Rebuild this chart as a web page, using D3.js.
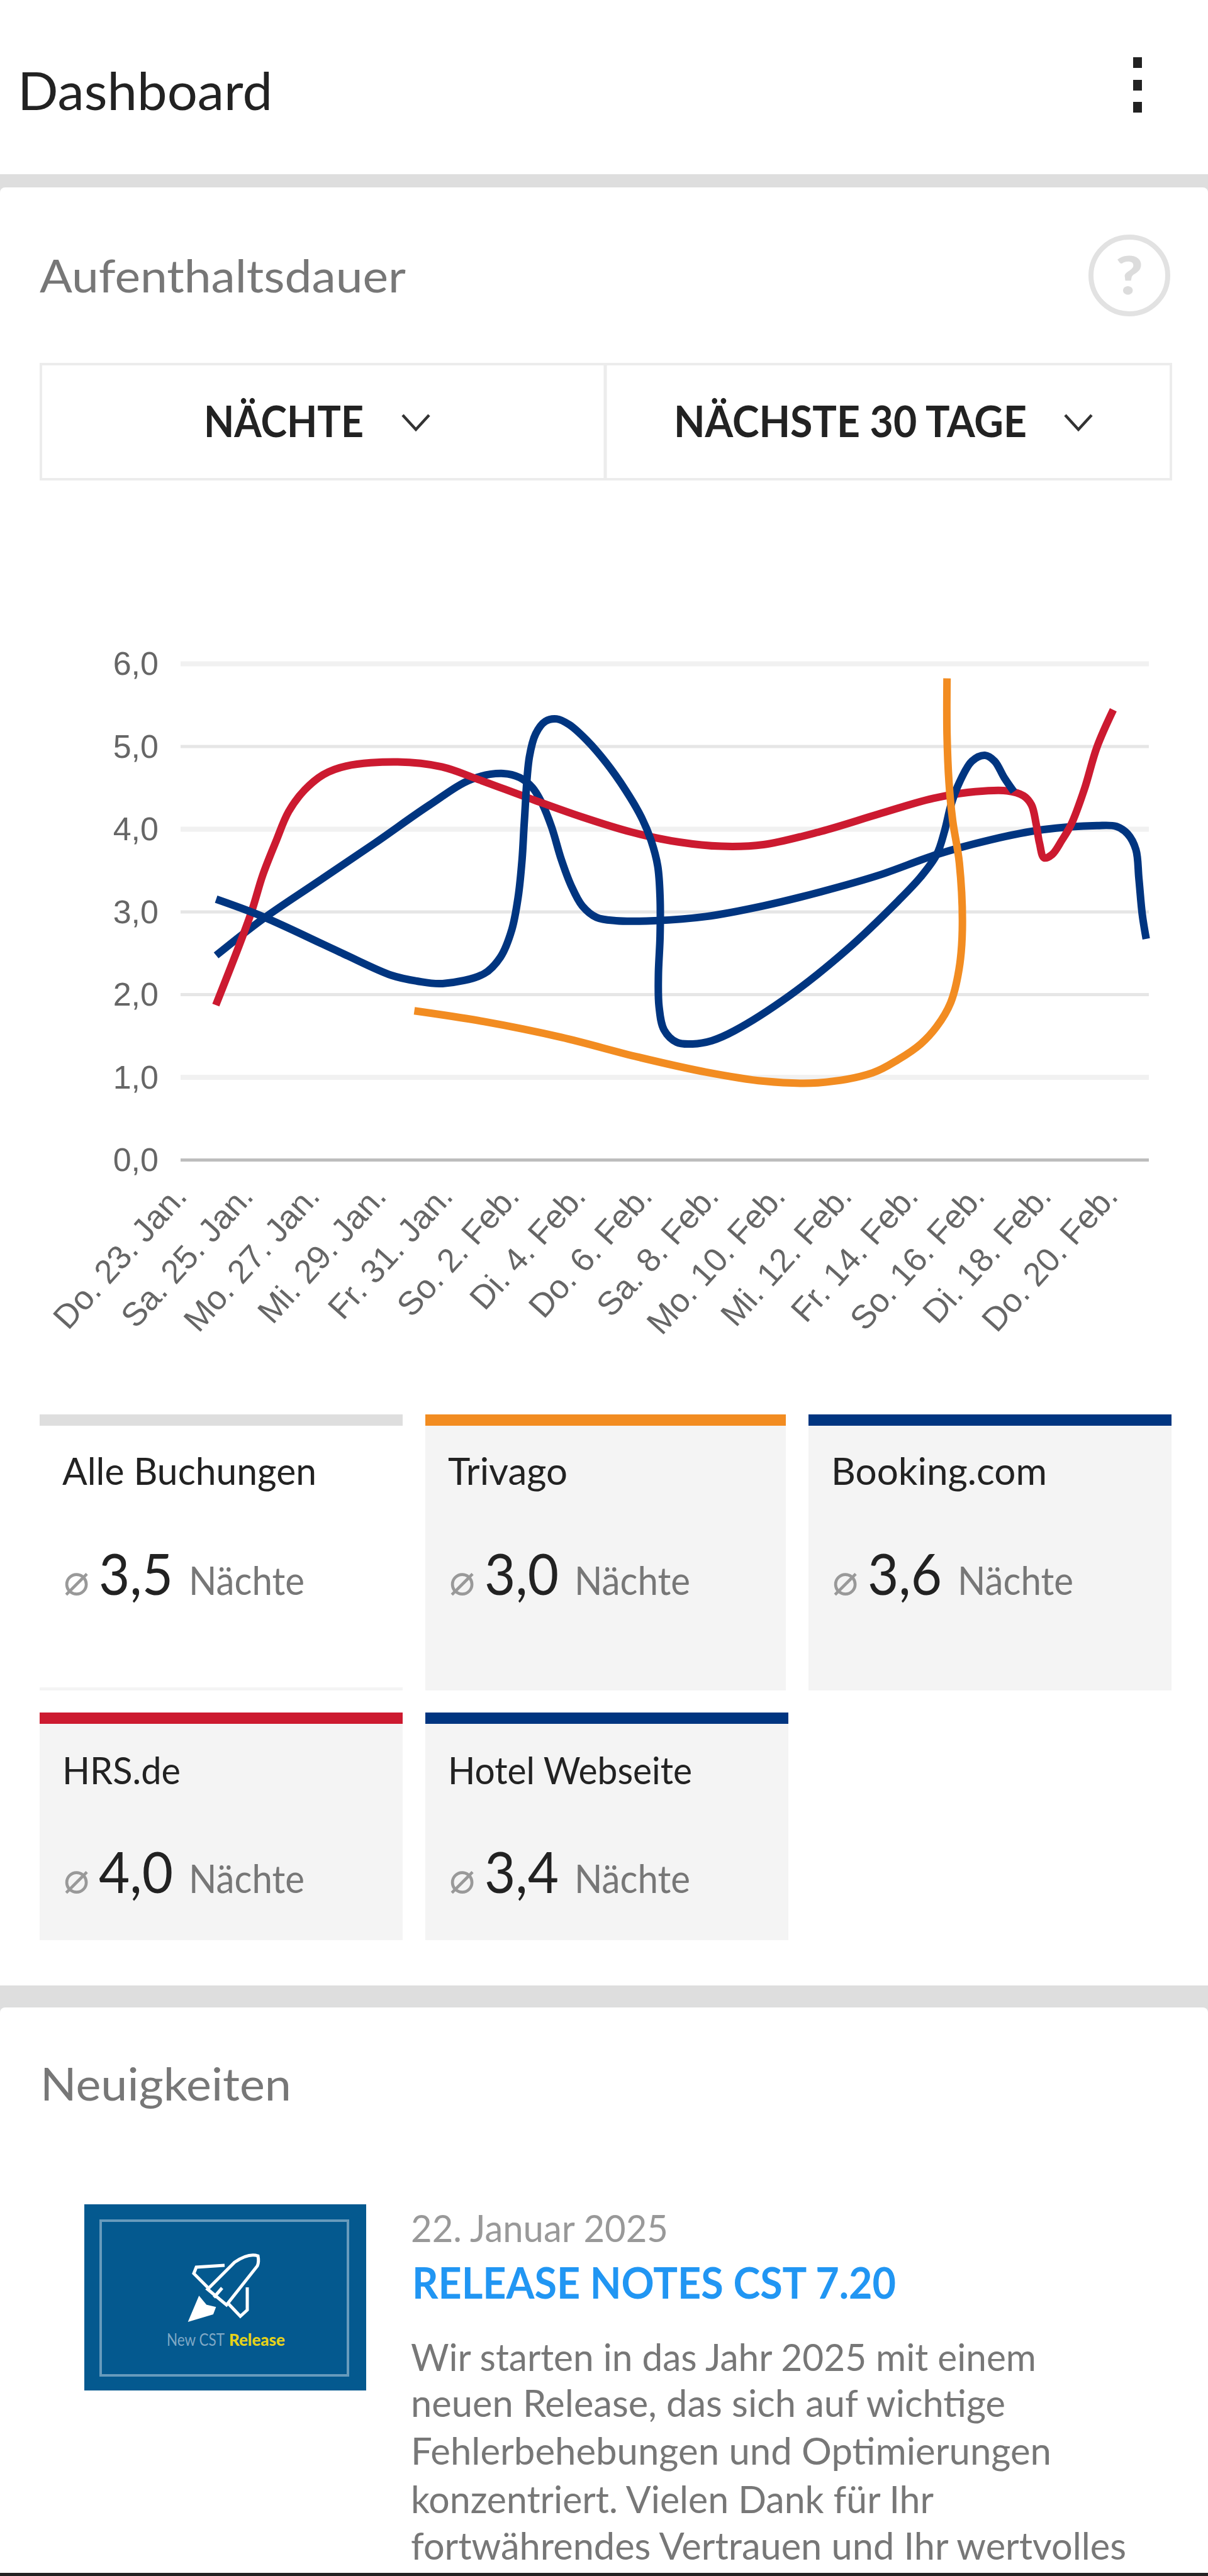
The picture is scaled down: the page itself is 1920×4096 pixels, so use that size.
<!DOCTYPE html>
<html lang="de">
<head>
<meta charset="utf-8">
<title>Dashboard</title>
<script src="https://d3js.org/d3.v7.min.js"></script>
<style>
  html, body { margin: 0; padding: 0; background: #fff; }
  svg { display: block; }
  text { font-family: Lato, "Noto Sans", sans-serif; }
  .axis text { font-family: "Liberation Sans", Arial, sans-serif; font-size: 52px; fill: #666; }
  .xaxis text { font-size: 53px; }
</style>
</head>
<body>
<svg id="page" width="1920" height="4096"></svg>
<script>
"use strict"

// x axis: day offset from Do. 23. Jan., labelled every second day
const tickDays = [0, 2, 4, 6, 8, 10, 12, 14, 16, 18, 20, 22, 24, 26, 28]
const tickLabels = ["Do. 23. Jan.", "Sa. 25. Jan.", "Mo. 27. Jan.", "Mi. 29. Jan.", "Fr. 31. Jan.",
  "So. 2. Feb.", "Di. 4. Feb.", "Do. 6. Feb.", "Sa. 8. Feb.", "Mo. 10. Feb.", "Mi. 12. Feb.",
  "Fr. 14. Feb.", "So. 16. Feb.", "Di. 18. Feb.", "Do. 20. Feb."]
const yTicks = [0, 1, 2, 3, 4, 5, 6]

// values, day offset + nights
const hotelDays = [0.01, 1.41, 3.06, 4.79, 6.43, 7.69, 8.65, 9.14, 9.52, 9.81, 10.10, 10.39, 10.68, 11.02, 11.45,
  12.03, 13.19, 14.73, 16.47, 18.20, 19.94, 21.68, 23.32, 24.86, 26.50, 27.08, 27.42, 27.67, 27.76, 27.86, 27.98]
const hotelNights = [2.47, 2.91, 3.36, 3.83, 4.29, 4.60, 4.67, 4.62, 4.50, 4.31, 4.02, 3.63, 3.32, 3.07, 2.93,
  2.89, 2.89, 2.94, 3.07, 3.24, 3.44, 3.69, 3.87, 3.99, 4.04, 4.03, 3.94, 3.75, 3.40, 2.97, 2.67]

const hrsDays = [0, 1.05, 1.41, 1.80, 2.19, 2.67, 3.25, 3.92, 5.47, 6.80, 7.88, 9.43, 10.97, 12.51, 13.94, 15.20,
  16.47, 18.20, 19.94, 21.58, 22.84, 23.80, 24.29, 24.53, 24.67, 24.77, 24.91, 25.15, 25.44, 25.73, 26.12, 26.50, 26.99]
const hrsNights = [1.87, 2.97, 3.44, 3.84, 4.21, 4.47, 4.66, 4.76, 4.81, 4.75, 4.60, 4.37, 4.15, 3.96, 3.84, 3.79,
  3.81, 3.97, 4.18, 4.37, 4.45, 4.46, 4.40, 4.29, 4.06, 3.83, 3.65, 3.69, 3.86, 4.06, 4.48, 4.99, 5.44]

const bookingDays = [0.01, 1.41, 3.73, 5.28, 6.05, 6.82, 8.07, 8.56, 8.90, 9.09, 9.21, 9.28, 9.43, 9.62, 9.91, 10.25, 10.63,
  11.16, 11.74, 12.32, 12.80, 13.09, 13.29, 13.36, 13.36, 13.31, 13.33, 13.48, 13.86, 14.34, 14.92, 15.60, 17.24,
  18.98, 20.52, 21.20, 21.68, 21.92, 22.11, 22.36, 22.74, 23.13, 23.42, 23.71, 24.00]
const bookingNights = [3.15, 2.94, 2.51, 2.23, 2.16, 2.13, 2.25, 2.45, 2.78, 3.17, 3.63, 4.10, 4.87, 5.15, 5.30, 5.33, 5.26,
  5.07, 4.80, 4.47, 4.14, 3.86, 3.55, 3.17, 2.70, 2.23, 1.85, 1.57, 1.42, 1.40, 1.44, 1.56, 1.98,
  2.54, 3.13, 3.42, 3.69, 3.98, 4.29, 4.56, 4.82, 4.89, 4.82, 4.62, 4.45]

const trivagoDays = [5.97, 8.07, 10.39, 12.71, 14.73, 16.47, 18.11, 19.75, 20.52, 21.20, 21.68, 22.10, 22.35, 22.45,
  22.36, 22.16, 22.05, 21.99, 21.99]
const trivagoNights = [1.80, 1.67, 1.48, 1.24, 1.06, 0.95, 0.93, 1.05, 1.21, 1.40, 1.61, 1.90, 2.30, 2.78,
  3.59, 4.10, 4.56, 5.14, 5.82]

const NAVY = "#003580", RED = "#cc1a30", ORANGE = "#f28c21", GREY = "#dedede"

// cards under the chart
const cardNames = ["Alle Buchungen", "Trivago", "Booking.com", "HRS.de", "Hotel Webseite"]
const cardAverages = ["3,5", "3,0", "3,6", "4,0", "3,4"]
const cardColors = [GREY, ORANGE, NAVY, RED, NAVY]

const newsLines = ["Wir starten in das Jahr 2025 mit einem", "neuen Release, das sich auf wichtige",
  "Fehlerbehebungen und Optimierungen", "konzentriert. Vielen Dank für Ihr",
  "fortwährendes Vertrauen und Ihr wertvolles"]

const svg = d3.select("#page")

// text helper, width squeezes the glyphs onto the width seen in the reference
function label(text, x, y, size, fill, width, weight) {
  const t = svg.append("text")
    .attr("x", x).attr("y", y)
    .attr("font-size", size)
    .attr("fill", fill)
    .text(text)
  if (weight) t.attr("font-weight", weight)
  if (width) t.attr("textLength", width).attr("lengthAdjust", "spacingAndGlyphs")
  return t
}

// top bar
label("Dashboard", 28, 175, 84, "#222", 405)
svg.append("g").attr("fill", "#222").selectAll("rect")
  .data([91, 127, 162]).join("rect")
  .attr("x", 1801).attr("y", d => d).attr("width", 14).attr("height", 17)

// section backgrounds
svg.append("rect").attr("x", 0).attr("y", 277).attr("width", 1920).attr("height", 30).attr("fill", GREY)
svg.append("rect").attr("x", 0).attr("y", 298).attr("width", 1920).attr("height", 200).attr("rx", 8).attr("fill", "#fff")

label("Aufenthaltsdauer", 63, 465, 72, "#777", 582)

// help icon
svg.append("circle").attr("cx", 1795).attr("cy", 438).attr("r", 61)
  .attr("fill", "none").attr("stroke", "#e2e2e2").attr("stroke-width", 8)
label("?", 1773, 468, 84, "#dcdcdc", 44, 900)

// dropdown buttons
svg.append("rect").attr("x", 65).attr("y", 579).attr("width", 1796).attr("height", 183)
  .attr("fill", "none").attr("stroke", "#ececec").attr("stroke-width", 4)
svg.append("line").attr("x1", 962).attr("x2", 962).attr("y1", 579).attr("y2", 762)
  .attr("stroke", "#ececec").attr("stroke-width", 5)
label("NÄCHTE", 324, 695, 68, "#222", 254, 700)
label("NÄCHSTE 30 TAGE", 1071, 695, 68, "#222", 561, 700)
const chevron = d3.line()
svg.append("path").attr("d", chevron([[640, 660], [661, 683], [682, 660]]))
  .attr("fill", "none").attr("stroke", "#333").attr("stroke-width", 4.5)
svg.append("path").attr("d", chevron([[1693, 660], [1714, 683], [1735, 660]]))
  .attr("fill", "none").attr("stroke", "#333").attr("stroke-width", 4.5)

// chart
const x = d3.scaleLinear().domain([-1.06, 28.06]).range([287, 1826])
const y = d3.scaleLinear().domain([0, 6]).range([1844, 1055])

const yAxis = d3.axisLeft(y)
  .tickValues(yTicks)
  .tickFormat(d => d.toFixed(1).replace(".", ","))
  .tickSize(-(x.range()[1] - x.range()[0]))
  .tickPadding(35)
const yG = svg.append("g").attr("class", "axis")
  .attr("transform", "translate(" + x.range()[0] + ",0)")
  .call(yAxis)
yG.select(".domain").remove()
yG.selectAll(".tick line")
  .attr("stroke", d => d === 0 ? "#bdbdbd" : ([1, 4, 6].includes(d) ? "#f1f1f1" : "#e6e6e6"))
  .attr("stroke-width", d => d === 0 ? 5 : ([1, 4, 6].includes(d) ? 8 : 5))
yG.selectAll(".tick text").attr("dy", "0.34em")

const xAxis = d3.axisBottom(x)
  .tickValues(tickDays)
  .tickFormat((d, i) => tickLabels[i])
  .tickSize(0)
const xG = svg.append("g").attr("class", "axis xaxis")
  .attr("transform", "translate(0," + y(0) + ")")
  .call(xAxis)
xG.select(".domain").remove()
xG.selectAll(".tick text")
  .attr("y", 0).attr("dy", 0)
  .attr("text-anchor", "end")
  .attr("transform", "translate(-44,60) rotate(-48)")

const line = d3.line()
  .x(d => x(d[0]))
  .y(d => y(d[1]))
  .curve(d3.curveCatmullRom.alpha(0.5))

const series = [
  { days: hotelDays, nights: hotelNights, color: NAVY },
  { days: hrsDays, nights: hrsNights, color: RED },
  { days: bookingDays, nights: bookingNights, color: NAVY },
  { days: trivagoDays, nights: trivagoNights, color: ORANGE }
]
svg.append("g").selectAll("path")
  .data(series).join("path")
  .attr("d", s => line(d3.zip(s.days, s.nights)))
  .attr("fill", "none")
  .attr("stroke", d => d.color)
  .attr("stroke-width", 12)

// cards
const cardX = [63, 676, 1285, 63, 676]
const cardW = [577, 573, 577, 577, 577]
const cardY = [2249, 2249, 2249, 2723, 2723]
const cardH = [439, 439, 439, 362, 362]
const nameW = [404, 190, 343, 188, 388]
cardNames.forEach((name, i) => {
  const cx = cardX[i], cy = cardY[i]
  if (i === 0) {
    svg.append("rect").attr("x", cx).attr("y", cy + cardH[i] - 5).attr("width", cardW[i]).attr("height", 5).attr("fill", "#f4f4f4")
  } else {
    svg.append("rect").attr("x", cx).attr("y", cy).attr("width", cardW[i]).attr("height", cardH[i]).attr("fill", "#f4f4f4")
  }
  svg.append("rect").attr("x", cx).attr("y", cy).attr("width", cardW[i]).attr("height", 18).attr("fill", cardColors[i])
  label(name, cx + 36, cy + 112 + (i > 2 ? 2 : 0), 60, "#222", nameW[i])
  const base = cy + 287
  svg.append("text").attr("x", cx + 38).attr("y", base).attr("font-size", 68).attr("fill", "#999")
    .style("font-family", "'DejaVu Sans', sans-serif").text("⌀")
  label(cardAverages[i], cx + 94, base, 92, "#222", 118)
  label("Nächte", cx + 237, base, 62, "#777", 184)
})

// news section
svg.append("rect").attr("x", 0).attr("y", 3157).attr("width", 1920).attr("height", 44).attr("fill", GREY)
svg.append("rect").attr("x", 0).attr("y", 3192).attr("width", 1920).attr("height", 100).attr("rx", 8).attr("fill", "#fff")
label("Neuigkeiten", 64, 3340, 72, "#777", 399)

svg.append("rect").attr("x", 134).attr("y", 3505).attr("width", 448).attr("height", 296).attr("fill", "#04598f")
svg.append("rect").attr("x", 160).attr("y", 3531).attr("width", 393).attr("height", 246)
  .attr("fill", "none").attr("stroke", "#fff").attr("stroke-opacity", 0.4).attr("stroke-width", 4)
// rocket logo
const logo = svg.append("g").attr("fill", "none").attr("stroke", "#fff").attr("stroke-width", 5)
logo.append("path").attr("d", "M373 3597 Q395 3582 410 3587 Q412 3596 409 3603 L360 3665 L330 3640 Z")
logo.append("path").attr("d", "M357 3602 L312 3605 L308 3615 L330 3637")
logo.append("path").attr("d", "M393 3637 L393 3673 L382 3683 L363 3663")
logo.append("path").attr("d", "M353 3638 L340 3653")
logo.append("path").attr("d", "M317 3655 L303 3688 L337 3678 L340 3670 L327 3667 Z").attr("fill", "#fff")
label("New CST", 265, 3730, 27, "#7fa8c5", 92)
label("Release", 364, 3730, 27, "#e6d21a", 89, 900)

label("22. Januar 2025", 653, 3565, 60, "#999", 409)
label("RELEASE NOTES CST 7.20", 655, 3655, 68, "#2196f3", 769, 700)
const lineBase = [3770, 3843, 3919, 3996, 4070]
const lineW = [994, 945, 1018, 831, 1137]
newsLines.forEach((t, i) => label(t, 653, lineBase[i], 60, "#777", lineW[i]))

// bottom edge
svg.append("rect").attr("x", 0).attr("y", 4091).attr("width", 1920).attr("height", 5).attr("fill", "#222")
</script>
</body>
</html>
